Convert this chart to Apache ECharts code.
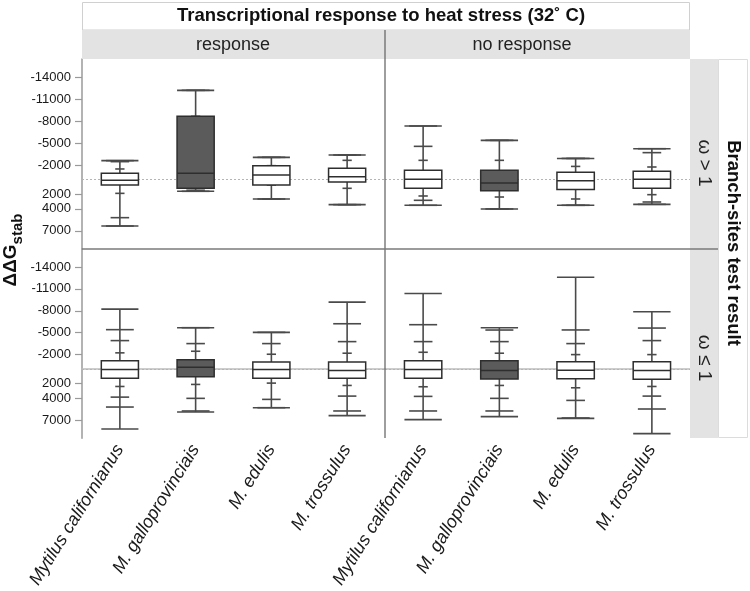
<!DOCTYPE html>
<html><head><meta charset="utf-8">
<script src="https://cdn.jsdelivr.net/npm/echarts@6/dist/echarts.min.js"></script>
<style>html,body{margin:0;padding:0;background:#fff}#c{width:750px;height:591px}</style>
</head><body><div id="c"></div>
<script>
const species = ['Mytilus californianus', 'M. galloprovinciais', 'M. edulis', 'M. trossulus'];
const chartTitle = 'Transcriptional response to heat stress (32\u02DA C)';
const columnStrips = ['response', 'no response'];
const rowStrips = ['\u03C9 > 1', '\u03C9 \u2264 1'];
const rowTitle = 'Branch-sites test result';
const yTickValues = [-14000, -11000, -8000, -5000, -2000, 2000, 4000, 7000];
const referenceValue = 0;
const shaded = [0, 1, 0, 0];
// each box: [min, 0.5%, 2.5%, 10%, 25%, median, 75%, 90%, 97.5%, 99.5%, max]
const responseOmegaGt1 = [
  [-2590, -2590, -2450, -1450, -860, 100, 740, 1880, 5200, 6340, 6340],
  [-12190, -12190, -12190, -8640, -8640, -860, 1190, 1190, 1450, 1600, 1600],
  [-3040, -3040, -3040, -1900, -1900, -630, 740, 740, 2650, 2650, 2650],
  [-3360, -3360, -3360, -2630, -1540, -400, 330, 1190, 3420, 3420, 3420]
];
const noResponseOmegaGt1 = [
  [-7320, -7320, -4540, -2630, -1270, -40, 1190, 2240, 2830, 3510, 3510],
  [-5360, -5360, -5360, -2630, -1270, 460, 1510, 2380, 4010, 4010, 4010],
  [-2890, -2890, -2890, -1800, -990, 150, 1370, 2650, 3510, 3510, 3510],
  [-4220, -4220, -3680, -1720, -1130, -40, 1190, 2060, 3060, 3380, 3380]
];
const responseOmegaLe1 = [
  [-8230, -5410, -3910, -2230, -1130, 50, 1240, 2380, 3840, 5200, 8210],
  [-5680, -5680, -3500, -2450, -1270, -260, 1050, 2100, 4010, 5740, 5880],
  [-5040, -5040, -3500, -2040, -990, 50, 1240, 1920, 4150, 5290, 5290],
  [-9180, -6220, -3770, -2180, -990, 190, 1240, 2240, 3700, 5740, 6380]
];
const noResponseOmegaLe1 = [
  [-10370, -6090, -3770, -2310, -1130, 50, 1240, 2420, 3740, 5740, 6930],
  [-5680, -5360, -3770, -2180, -1130, 190, 1370, 2240, 4010, 5740, 6520],
  [-12600, -5370, -3500, -1990, -1000, 150, 1330, 2560, 4290, 6700, 6750],
  [-7860, -5630, -3910, -1990, -1000, 190, 1380, 2380, 3700, 5470, 8840]
];

const FONT = '"Liberation Sans", Arial, Helvetica, sans-serif';
const panels = [responseOmegaGt1, noResponseOmegaGt1, responseOmegaLe1, noResponseOmegaLe1];
const grids = [
  {left: 82, top: 59, width: 303, height: 190},
  {left: 385, top: 59, width: 305, height: 190},
  {left: 82, top: 249, width: 303, height: 190},
  {left: 385, top: 249, width: 305, height: 190}
];
const Y_MIN = -16470, Y_MAX = 9480;

function renderBox(params, api) {
  const ci = api.value(0);
  const q = [];
  for (let i = 1; i <= 11; i++) q.push(api.value(i));
  const dark = api.value(12) === 1;
  const cx = api.coord([ci, 0])[0];
  const bw = api.size([1, 0])[0] * 0.49;
  const y = v => api.coord([ci, v])[1];
  const wl = '#4a4a4a';
  const children = [];
  const hline = (v, w, col, lw) => ({
    type: 'line', shape: {x1: cx - w / 2, y1: y(v), x2: cx + w / 2, y2: y(v)},
    style: {stroke: col, lineWidth: lw}
  });
  children.push({type: 'line', shape: {x1: cx, y1: y(q[0]), x2: cx, y2: y(q[10])}, style: {stroke: wl, lineWidth: 1.6}});
  const widths = [1, 0.75, 0.5, 0.25];
  for (let k = 0; k < 4; k++) {
    children.push(hline(q[k], bw * widths[k], wl, 1.6));
    children.push(hline(q[10 - k], bw * widths[k], wl, 1.6));
  }
  const yt = Math.min(y(q[4]), y(q[6])), yb = Math.max(y(q[4]), y(q[6]));
  children.push({type: 'rect', shape: {x: cx - bw / 2, y: yt, width: bw, height: yb - yt},
    style: {fill: dark ? '#5b5b5b' : '#ffffff', stroke: '#2e2e2e', lineWidth: 1.5}});
  children.push(hline(q[5], bw, '#2e2e2e', 1.5));
  return {type: 'group', children};
}

const series = [];
panels.forEach((p, gi) => {
  series.push({
    type: 'line', xAxisIndex: gi, yAxisIndex: gi, data: [], z: 1, silent: true,
    markLine: {
      z: 1, silent: true, symbol: 'none', label: {show: false}, animation: false,
      lineStyle: {color: '#b5b5b5', type: [2, 2], width: 1},
      data: [{yAxis: referenceValue}]
    }
  });
  series.push({
    type: 'custom',
    xAxisIndex: gi, yAxisIndex: gi,
    renderItem: renderBox,
    encode: {x: 0, y: [1, 11]},
    data: p.map((row, i) => [i].concat(row).concat([shaded[i]])),
    z: 4
  });
});

const xAxes = grids.map((g, gi) => {
  const bottom = gi >= 2;
  return {
    type: 'category', gridIndex: gi, data: species, boundaryGap: true,
    axisLine: {show: bottom, lineStyle: {color: '#bdbdbd', width: 1.5}},
    axisTick: {show: bottom, alignWithLabel: true, length: 4, lineStyle: {color: '#777'}},
    axisLabel: {show: bottom, interval: 0, rotate: 58, margin: 8, fontFamily: FONT,
      fontStyle: 'italic', fontSize: 18, color: '#1a1a1a'},
    splitLine: {show: false}
  };
});
const yAxes = grids.map((g, gi) => {
  const left = gi % 2 === 0;
  return {
    type: 'value', gridIndex: gi, inverse: true, min: Y_MIN, max: Y_MAX,
    axisLine: {show: left, lineStyle: {color: '#9a9a9a', width: 1.5}},
    axisTick: {show: left, length: 7, customValues: yTickValues, lineStyle: {color: '#9a9a9a', width: 1.2}},
    axisLabel: {show: left, customValues: yTickValues, formatter: v => String(v), margin: 11,
      fontFamily: FONT, fontSize: 13, color: '#1a1a1a'},
    splitLine: {show: false}
  };
});

const graphic = [
  // title box
  {type: 'rect', shape: {x: 82.5, y: 2.5, width: 607, height: 27.5}, style: {fill: '#fff', stroke: '#d0d0d0', lineWidth: 1}, z: 1},
  {type: 'text', x: 381, y: 16, style: {text: chartTitle, font: 'bold 18.5px ' + FONT, fill: '#111', textAlign: 'center', textVerticalAlign: 'middle'}, z: 2},
  // column strips
  {type: 'rect', shape: {x: 82, y: 30, width: 608, height: 29}, style: {fill: '#e3e3e3'}, z: 1},
  {type: 'text', x: 233, y: 45, style: {text: columnStrips[0], font: '18px ' + FONT, fill: '#222', textAlign: 'center', textVerticalAlign: 'middle'}, z: 2},
  {type: 'text', x: 522, y: 45, style: {text: columnStrips[1], font: '18px ' + FONT, fill: '#222', textAlign: 'center', textVerticalAlign: 'middle'}, z: 2},
  // row strips
  {type: 'rect', shape: {x: 690, y: 59, width: 28, height: 379}, style: {fill: '#e3e3e3'}, z: 1},
  {type: 'text', x: 704, y: 163, rotation: -Math.PI / 2, style: {text: rowStrips[0], font: '19px ' + FONT, fill: '#222', textAlign: 'center', textVerticalAlign: 'middle'}, z: 2},
  {type: 'text', x: 704, y: 358, rotation: -Math.PI / 2, style: {text: rowStrips[1], font: '19px ' + FONT, fill: '#222', textAlign: 'center', textVerticalAlign: 'middle'}, z: 2},
  {type: 'rect', shape: {x: 718.5, y: 59.5, width: 29, height: 378}, style: {fill: '#fff', stroke: '#dcdcdc', lineWidth: 1}, z: 1},
  {type: 'text', x: 733, y: 243, rotation: -Math.PI / 2, style: {text: rowTitle, font: 'bold 18.5px ' + FONT, fill: '#111', textAlign: 'center', textVerticalAlign: 'middle'}, z: 2},
  // dividers
  {type: 'line', shape: {x1: 385, y1: 30, x2: 385, y2: 438}, style: {stroke: '#6a6a6a', lineWidth: 1.3}, z: 5},
  {type: 'line', shape: {x1: 82, y1: 249, x2: 718, y2: 249}, style: {stroke: '#7a7a7a', lineWidth: 1.5}, z: 5},
  // y axis title
  {type: 'text', x: 13, y: 250, rotation: Math.PI / 2, style: {
    text: '{a|\u0394\u0394G}{b|stab}', textAlign: 'center', textVerticalAlign: 'middle',
    rich: {
      a: {font: 'bold 19px ' + FONT, fill: '#111', verticalAlign: 'bottom', padding: [0, 0, 5, 0]},
      b: {font: 'bold 15px ' + FONT, fill: '#111', verticalAlign: 'bottom'}
    }}, z: 2}
];

const chart = echarts.init(document.getElementById('c'), null, {renderer: 'canvas'});
chart.setOption({
  animation: false,
  backgroundColor: '#fff',
  grid: grids,
  xAxis: xAxes,
  yAxis: yAxes,
  series,
  graphic
});
</script></body></html>
